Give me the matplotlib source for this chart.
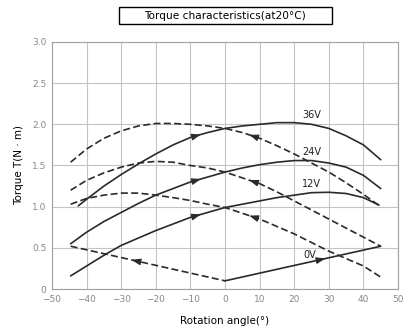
import matplotlib.pyplot as plt
import numpy as np
from matplotlib.patches import Rectangle

# rotation angle (deg) / torque (N*m)
ang_36_up = [-42.4, -40, -35, -30, -25, -20, -15, -10, -5, 0, 5, 10, 15, 20, 25, 30, 35, 40, 45]
trq_36_up = [1.01, 1.09, 1.25, 1.39, 1.52, 1.64, 1.75, 1.84, 1.90, 1.95, 1.98, 2.00, 2.02, 2.02, 2.00, 1.95, 1.86, 1.75, 1.57]
ang_36_dn = [-44.6, -40, -35, -30, -25, -20, -15, -10, -5, 0, 5, 10, 15, 20, 25, 30, 35, 40, 44.3]
trq_36_dn = [1.54, 1.70, 1.83, 1.92, 1.98, 2.01, 2.01, 2.00, 1.98, 1.95, 1.90, 1.83, 1.74, 1.64, 1.53, 1.42, 1.29, 1.15, 1.02]

ang_24_up = [-44.6, -40, -35, -30, -25, -20, -15, -10, -5, 0, 5, 10, 15, 20, 25, 30, 35, 40, 45]
trq_24_up = [0.55, 0.69, 0.82, 0.93, 1.04, 1.14, 1.22, 1.30, 1.36, 1.42, 1.47, 1.51, 1.54, 1.56, 1.56, 1.53, 1.48, 1.38, 1.22]
ang_24_dn = [-44.6, -40, -35, -30, -25, -20, -15, -10, -5, 0, 5, 10, 15, 20, 25, 30, 35, 40, 45]
trq_24_dn = [1.20, 1.32, 1.41, 1.48, 1.53, 1.55, 1.54, 1.50, 1.47, 1.42, 1.35, 1.28, 1.18, 1.07, 0.96, 0.85, 0.74, 0.63, 0.52]

ang_12_up = [-44.6, -40, -35, -30, -25, -20, -15, -10, -5, 0, 5, 10, 15, 20, 25, 30, 35, 40, 44.5]
trq_12_up = [0.16, 0.28, 0.41, 0.53, 0.62, 0.71, 0.79, 0.87, 0.93, 0.99, 1.03, 1.07, 1.11, 1.14, 1.17, 1.175, 1.16, 1.11, 1.02]
ang_12_dn = [-44.6, -40, -35, -30, -25, -20, -15, -10, -5, 0, 5, 10, 15, 20, 25, 30, 35, 40, 45.2]
trq_12_dn = [1.03, 1.10, 1.14, 1.165, 1.165, 1.14, 1.11, 1.075, 1.03, 0.99, 0.92, 0.85, 0.76, 0.67, 0.565, 0.46, 0.37, 0.28, 0.14]

ang_0_up = [0, 45]
trq_0_up = [0.10, 0.52]
ang_0_dn = [-44.6, 0]
trq_0_dn = [0.52, 0.10]

labels = ['36V', '24V', '12V', '0V']
label_pos = [(25, 2.11), (25, 1.66), (25, 1.27), (24.5, 0.41)]

# angle where arrowheads sit (up curves point right, down curves point left)
arrow_up = [-7, -7, -7, 29]
arrow_dn = [7, 7, 7, -27]

LINE = '#2a2a2a'

fig = plt.figure(figsize=(4.19, 3.30), dpi=100)
ax = fig.add_axes([0.124, 0.124, 0.826, 0.749])


def add_arrow(xs, ys, x0, direction):
    xs = np.asarray(xs, dtype=float)
    ys = np.asarray(ys, dtype=float)
    y0 = np.interp(x0, xs, ys)
    x1 = x0 - 1.5 * direction
    y1 = np.interp(x1, xs, ys)
    ax.annotate('', xy=(x0, y0), xytext=(x1, y1),
                arrowprops=dict(arrowstyle='-|>,head_length=0.55,head_width=0.2',
                                color=LINE, lw=0.8, shrinkA=0, shrinkB=0))


ups = [(ang_36_up, trq_36_up), (ang_24_up, trq_24_up), (ang_12_up, trq_12_up), (ang_0_up, trq_0_up)]
dns = [(ang_36_dn, trq_36_dn), (ang_24_dn, trq_24_dn), (ang_12_dn, trq_12_dn), (ang_0_dn, trq_0_dn)]

for i in range(4):
    ax.plot(ups[i][0], ups[i][1], color=LINE, lw=1.2, solid_capstyle='round', zorder=3)
    ax.plot(dns[i][0], dns[i][1], color=LINE, lw=1.2, dashes=(4.2, 2.0), zorder=3)
    add_arrow(ups[i][0], ups[i][1], arrow_up[i], 1)
    add_arrow(dns[i][0], dns[i][1], arrow_dn[i], -1)
    ax.text(label_pos[i][0], label_pos[i][1], labels[i], fontsize=7, color='#222222',
            ha='center', va='center', zorder=4)

ax.set_xlim(-50, 50)
ax.set_ylim(0, 3.0)
ax.set_xticks(np.arange(-50, 51, 10))
ax.set_yticks(np.arange(0, 3.01, 0.5))
ax.set_xticklabels(['\u221250', '\u221240', '\u221230', '\u221220', '\u221210', '0', '10', '20', '30', '40', '50'])
ax.set_yticklabels(['0', '0.5', '1.0', '1.5', '2.0', '2.5', '3.0'])
ax.tick_params(length=0, labelsize=6.5, labelcolor='#888888', pad=4)
ax.grid(color='#c4c4c4', lw=0.8)
ax.set_axisbelow(True)
for s in ax.spines.values():
    s.set_color('#a0a0a0')
    s.set_linewidth(0.8)

ax.set_xlabel('Rotation angle(\u00b0)', fontsize=7.5, labelpad=9)
ax.set_ylabel('Torque T(N \u00b7 m)', fontsize=7.5, labelpad=6)

# title in a box
fig.patches.append(Rectangle((0.284, 0.926), 0.508, 0.0515, transform=fig.transFigure,
                             fill=False, edgecolor='black', lw=1.0))
fig.text(0.538, 0.952, 'Torque characteristics(at20\u00b0C)', fontsize=7.6,
         ha='center', va='center')

fig.savefig('out.png', dpi=100)
